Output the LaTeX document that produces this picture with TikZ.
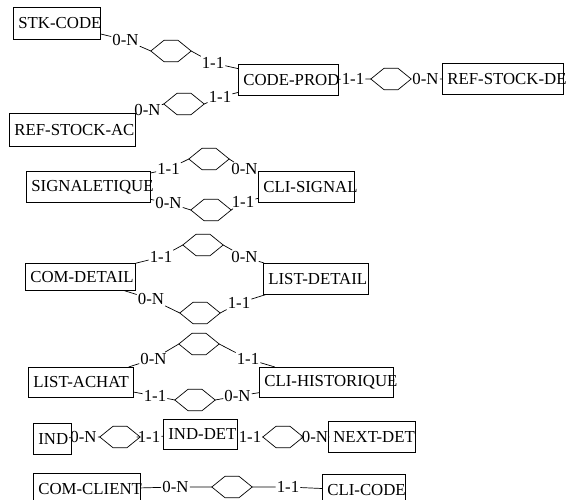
\documentclass[tikz,border=0pt]{standalone}
\usepackage{fontspec}
\setmainfont{Liberation Serif}
\tikzset{
 ebox/.style={draw, anchor=north west, inner xsep=5pt, inner ysep=0pt, line width=0.7pt, font=\fontsize{16.8}{18}\selectfont},
 card/.style={inner sep=1pt, font=\fontsize{16.8}{18}\selectfont},
 relnode/.style={minimum width=40pt, minimum height=21pt, inner sep=0pt},
 link/.style={line width=0.7pt},
}
\newcommand\ent[6]{\node[ebox, minimum width=#4pt, minimum height=#5pt] (#1) at (#2,#3) {\makebox[\dimexpr #4pt-10pt\relax][l]{#6}};}
\newcommand\rel[3]{\node[relnode] (#1) at (#2,#3) {};
 \draw[link] (#1.west) -- ([xshift=-7pt]#1.north) -- ([xshift=7pt]#1.north) -- (#1.east) -- ([xshift=7pt]#1.south) -- ([xshift=-7pt]#1.south) -- cycle;}
\begin{document}
\begin{tikzpicture}[x=1pt,y=-1pt]
\useasboundingbox (0,0) rectangle (568,500);
% entities
\ent{stk}{13}{7}{87}{32}{STK-CODE}
\ent{prod}{238}{64}{100}{31}{CODE-PROD}
\ent{refde}{442}{63}{121}{31}{REF-STOCK-DE}
\ent{refac}{9}{113}{126}{33}{REF-STOCK-AC}
\ent{sig}{26}{171}{124}{31}{SIGNALETIQUE}
\ent{clisig}{258}{171}{96}{31}{CLI-SIGNAL}
\ent{comdet}{25}{263}{110}{27}{COM-DETAIL}
\ent{listdet}{263}{263}{105}{31}{LIST-DETAIL}
\ent{listach}{28}{367}{105}{30}{LIST-ACHAT}
\ent{clihist}{259}{367}{134}{30}{CLI-HISTORIQUE}
\ent{ind}{33}{423}{38}{31}{IND}
\ent{inddet}{163}{419}{74}{30}{IND-DET}
\ent{nextdet}{328}{421}{87}{31}{NEXT-DET}
\ent{comcli}{33}{473}{107}{32}{COM-CLIENT}
\ent{clicode}{322}{474}{83}{32}{CLI-CODE}
% relationships
\rel{d1}{171}{51}
\rel{d2}{391}{79}
\rel{d3}{184}{104}
\rel{d4}{209}{159}
\rel{d5}{211}{210}
\rel{d6}{203}{245}
\rel{d7}{200}{313}
\rel{d8}{199}{344}
\rel{d9}{195}{400}
\rel{d10}{120}{437}
\rel{d11}{283}{437}
\rel{d12}{232}{487}
% cardinalities
\node[card] (c1a) at (125.5,40) {0-N};
\node[card] (c1b) at (213,63) {1-1};
\node[card] (c2a) at (353,79) {1-1};
\node[card] (c2b) at (425.5,79) {0-N};
\node[card] (c3a) at (147.5,110) {0-N};
\node[card] (c3b) at (220,97) {1-1};
\node[card] (c4a) at (168.5,169) {1-1};
\node[card] (c4b) at (244.5,169) {0-N};
\node[card] (c5a) at (168.5,203) {0-N};
\node[card] (c5b) at (243,202) {1-1};
\node[card] (c6a) at (161,257) {1-1};
\node[card] (c6b) at (244.5,257) {0-N};
\node[card] (c7a) at (151,299) {0-N};
\node[card] (c7b) at (239,303) {1-1};
\node[card] (c8a) at (153.5,359) {0-N};
\node[card] (c8b) at (248,359) {1-1};
\node[card] (c9a) at (155,396) {1-1};
\node[card] (c9b) at (237.5,396) {0-N};
\node[card] (c10a) at (83.5,437) {0-N};
\node[card] (c10b) at (149,437) {1-1};
\node[card] (c11a) at (250,437) {1-1};
\node[card] (c11b) at (315,437) {0-N};
\node[card] (c12a) at (175.5,487) {0-N};
\node[card] (c12b) at (288,487) {1-1};
% connectors
\draw[link] (stk) -- (c1a) -- (d1.west); \draw[link] (d1.east) -- (c1b) -- (prod);
\draw[link] (prod) -- (c2a) -- (d2.west); \draw[link] (d2.east) -- (c2b) -- (refde);
\draw[link] (refac) -- (c3a) -- (d3.west); \draw[link] (d3.east) -- (c3b) -- (prod);
\draw[link] (sig) -- (c4a) -- (d4.west); \draw[link] (d4.east) -- (c4b) -- (clisig);
\draw[link] (sig) -- (c5a) -- (d5.west); \draw[link] (d5.east) -- (c5b) -- (clisig);
\draw[link] (comdet) -- (c6a) -- (d6.west); \draw[link] (d6.east) -- (c6b) -- (listdet);
\draw[link] (comdet) -- (c7a) -- (d7.west); \draw[link] (d7.east) -- (c7b) -- (listdet);
\draw[link] (listach) -- (c8a) -- (d8.west); \draw[link] (d8.east) -- (c8b) -- (clihist);
\draw[link] (listach) -- (c9a) -- (d9.west); \draw[link] (d9.east) -- (c9b) -- (clihist);
\draw[link] (ind) -- (c10a) -- (d10.west); \draw[link] (d10.east) -- (c10b) -- (inddet);
\draw[link] (inddet) -- (c11a) -- (d11.west); \draw[link] (d11.east) -- (c11b) -- (nextdet);
\draw[link] (comcli) -- (c12a) -- (d12.west); \draw[link] (d12.east) -- (c12b) -- (clicode);
\end{tikzpicture}
\end{document}
